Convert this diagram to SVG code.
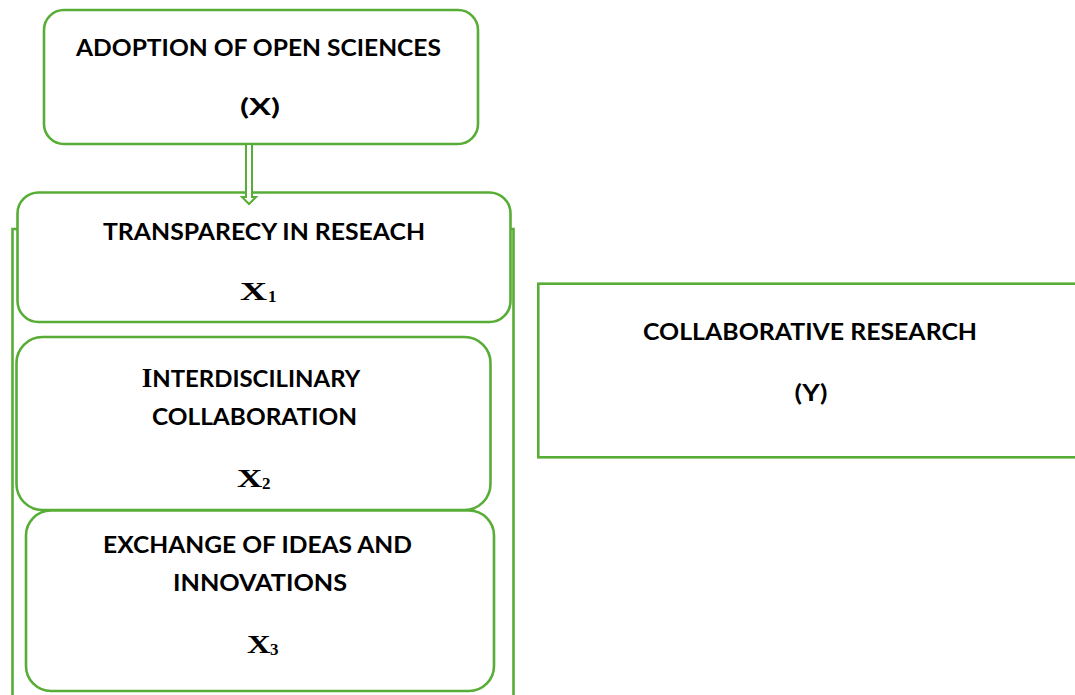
<svg xmlns="http://www.w3.org/2000/svg" width="1075" height="695" viewBox="0 0 1075 695">
<style>
.box{fill:#fff;stroke:#58ad36;stroke-width:2.6}
.ln{fill:none;stroke:#58ad36;stroke-width:2.6}
.t{font-family:Lato,"Liberation Sans",sans-serif;font-weight:bold;font-size:22.5px;fill:#000;text-anchor:middle}
.s{font-family:"Liberation Serif","Times New Roman",serif;font-weight:bold;fill:#000}
.xb{font-size:25px}
.sub{font-size:17px}
</style>
<rect width="1075" height="695" fill="#fff"/>
<g id="connectors">
<path class="ln" d="M17.5,229 H12.5 V697"/>
<path class="ln" d="M510.5,229 H513.5 V697"/>
</g>
<g id="node-x">
<rect class="box" x="44" y="10" width="434" height="134" rx="20"/>
<text class="t" x="258.5" y="56" textLength="365" lengthAdjust="spacingAndGlyphs">ADOPTION OF OPEN SCIENCES</text>
<text class="t" x="260" y="115" textLength="40" lengthAdjust="spacingAndGlyphs">(X)</text>
</g>
<g id="node-x1">
<rect class="box" x="17.5" y="192.5" width="493" height="129.5" rx="21"/>
<text class="t" x="264" y="240" textLength="322" lengthAdjust="spacingAndGlyphs">TRANSPARECY IN RESEACH</text>
<text class="s xb" transform="translate(240,300) scale(1.5,1)">X</text>
<text class="s sub" x="268" y="302">1</text>
</g>
<g id="node-x2">
<rect class="box" x="16.5" y="337" width="474" height="173" rx="26"/>
<text class="t" x="251" y="387"><tspan class="s" font-size="27">I</tspan><tspan textLength="208" lengthAdjust="spacingAndGlyphs">NTERDISCILINARY</tspan></text>
<text class="t" x="254.5" y="425" textLength="205" lengthAdjust="spacingAndGlyphs">COLLABORATION</text>
<text class="s xb" transform="translate(237,487) scale(1.4,1)">X</text>
<text class="s sub" x="262" y="489">2</text>
</g>
<g id="node-x3">
<rect class="box" x="26" y="510.5" width="468" height="180.5" rx="25"/>
<text class="t" x="257.5" y="553" textLength="309" lengthAdjust="spacingAndGlyphs">EXCHANGE OF IDEAS AND</text>
<text class="t" x="260" y="591" textLength="174" lengthAdjust="spacingAndGlyphs">INNOVATIONS</text>
<text class="s xb" transform="translate(247,653) scale(1.3,1)">X</text>
<text class="s sub" x="270" y="655">3</text>
</g>
<g id="node-y">
<rect class="box" x="538.3" y="283.7" width="600" height="173.6" stroke-width="3"/>
<text class="t" x="810" y="340" textLength="334" lengthAdjust="spacingAndGlyphs">COLLABORATIVE RESEARCH</text>
<text class="t" x="811" y="401" textLength="33" lengthAdjust="spacingAndGlyphs">(Y)</text>
</g>
<g id="arrow">
<path d="M246,145 V197 H242 L249,204 L256,197 H252 V145" fill="#fff" stroke="#58ad36" stroke-width="2"/>
</g>
</svg>
